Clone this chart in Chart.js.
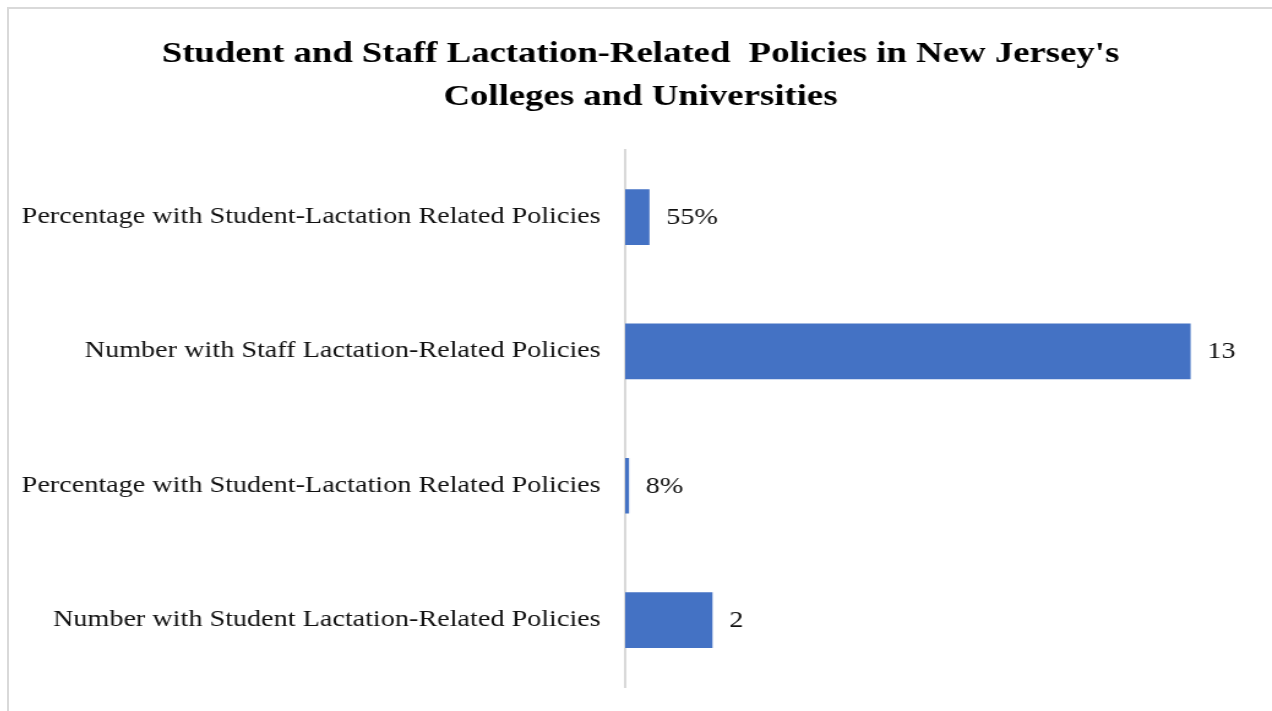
<!DOCTYPE html>
<html>
<head>
<meta charset="utf-8">
<script src="https://cdn.jsdelivr.net/npm/chart.js@4/dist/chart.umd.min.js"></script>
<style>
  html, body { margin: 0; padding: 0; background: #fff; overflow: hidden; }
  .frame {
    position: absolute; left: 7px; top: 7px;
    width: 1265px; height: 704px; overflow: hidden;
    border-left: 2px solid #d9d9d9; border-top: 2px solid #d9d9d9;
    background: #fff;
  }
  /* the chart is laid out narrow and widened, giving the wide serif lettering */
  .frame canvas { display: block; transform: scaleX(1.225); transform-origin: 0 0; }
</style>
</head>
<body>
<div class="frame"><canvas id="chart" width="1031" height="712"></canvas></div>
<script>
const categories = [
  'Percentage with Student-Lactation Related Policies',
  'Number with Staff Lactation-Related Policies',
  'Percentage with Student-Lactation Related Policies',
  'Number with Student Lactation-Related Policies'
];
const values = [0.55, 13, 0.08, 2];
const units = ['%', '', '%', ''];
const titleLines = [
  "Student and Staff Lactation-Related  Policies in New Jersey's",
  'Colleges and Universities'
];

const SERIF = '"Liberation Serif", "Times New Roman", serif';

function valueText(i) {
  return units[i] === '%' ? Math.round(values[i] * 100) + '%' : String(values[i]);
}

// value text to the right of each bar
const barLabels = {
  id: 'barLabels',
  afterDatasetsDraw(chart) {
    const ctx = chart.ctx;
    const meta = chart.getDatasetMeta(0);
    ctx.save();
    ctx.font = '23px ' + SERIF;
    ctx.fillStyle = '#111';
    ctx.textAlign = 'left';
    ctx.textBaseline = 'middle';
    meta.data.forEach((bar, i) => {
      ctx.fillText(valueText(i), bar.x + 14, bar.y + 1);
    });
    ctx.restore();
  }
};

new Chart(document.getElementById('chart'), {
  type: 'bar',
  data: {
    labels: categories,
    datasets: [{
      data: values,
      backgroundColor: '#4472c4',
      borderWidth: 0,
      barThickness: 55
    }]
  },
  options: {
    indexAxis: 'y',
    responsive: false,
    animation: false,
    layout: { padding: { left: 10, right: 10, top: 0, bottom: 8 } },
    plugins: {
      legend: { display: false },
      tooltip: { enabled: false },
      title: {
        display: true,
        text: titleLines,
        color: '#000',
        font: { family: SERIF, size: 30, weight: 'bold', lineHeight: 1.45 },
        padding: { top: 23, bottom: 31 }
      }
    },
    scales: {
      x: {
        min: 0,
        max: 14.6,
        display: false,
        grid: { display: false }
      },
      y: {
        grid: { display: false, drawTicks: false },
        border: { display: true, color: '#d9d9d9', width: 2 },
        ticks: {
          color: '#111',
          padding: 20,
          font: { family: SERIF, size: 23 }
        },
        afterFit(scale) { scale.width = 493; }
      }
    }
  },
  plugins: [barLabels]
});
</script>
</body>
</html>
